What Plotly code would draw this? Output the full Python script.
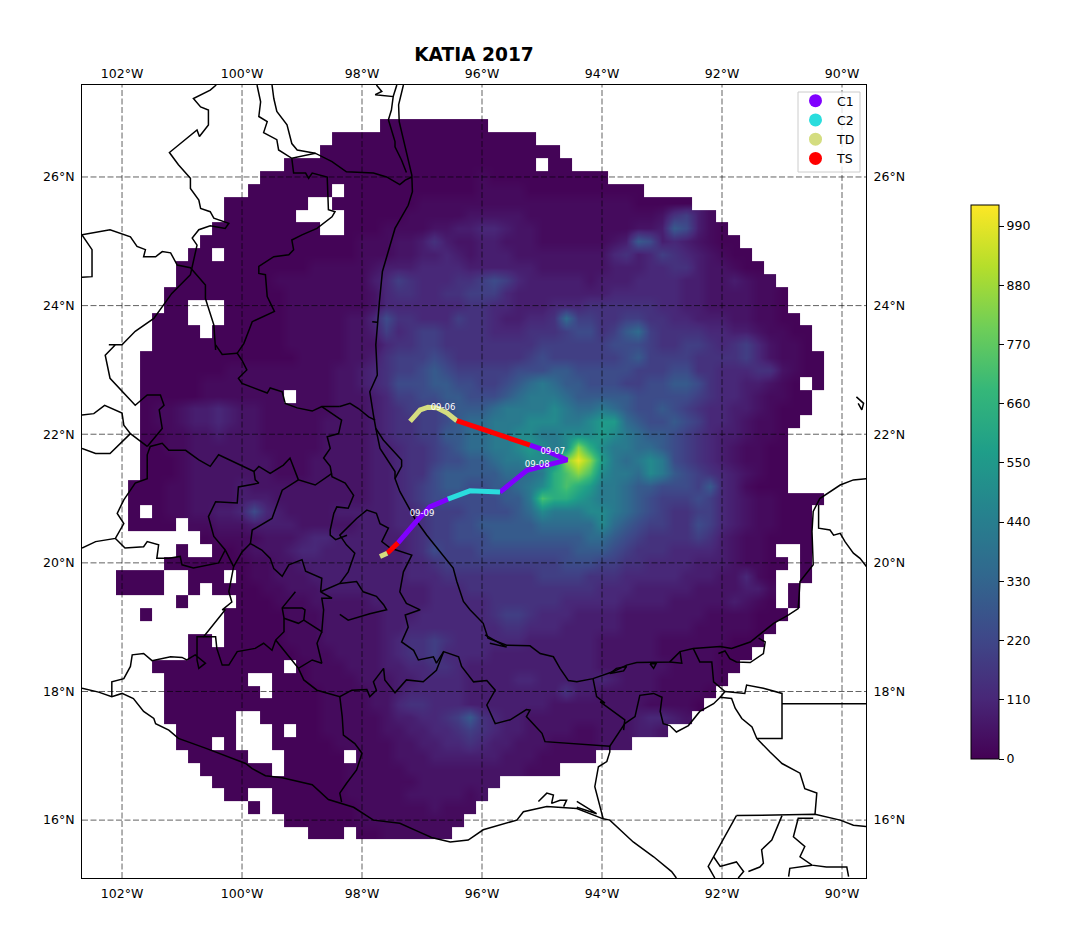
import plotly.graph_objects as go

# rain field, one row per 0.2 degree of latitude, north to south
LEVELS = {"0": 10, "1": 30, "2": 55, "3": 85, "4": 115, "5": 150, "6": 195, "7": 240, "8": 295,
          "9": 360, "a": 420, "b": 490, "c": 560, "d": 640, "e": 730, "f": 850, "g": 1000}
GRID_LON = [round(-102.0 + 0.2 * k, 1) for k in range(60)]
GRID_LAT = [round(26.8 - 0.2 * j, 1) for j in range(56)]
RAIN_ROWS = [
    ".......... .......... ..00000000 0",
    ".......... ........00 0000000000 00000",
    ".......... .......000 0000000000 0000000",
    ".......... ....000000 0000000000 00000.00",
    ".......... ..00000000 0000000000 1000000000 0",
    ".......... .0000000.0 0000000000 1111000000 0000",
    ".........0 000000..00 0000011111 1111111111 11100000",
    ".........0 00000....0 0000111112 2222111111 1111125631",
    "........00 0000000..0 0011112233 4432211111 1112238731 0",
    ".......000 0000000000 1112235322 3322211111 1238734321 00",
    "......00.0 0000000000 1112233432 3332222222 2453465432 100",
    ".....00000 0000001111 1233344443 3333322222 2333445532 2100",
    ".....00000 0001111111 1346544455 6764333332 3334444332 23211",
    "....000000 0000111111 1245544556 6643333333 3444444332 222110",
    "....00...0 0000111111 1244444445 5443334445 5555544332 222110",
    "...000...0 0000111112 2475544465 5433445966 5566554433 3221100",
    "...0000.00 0000111112 2364566555 5444555677 5689655554 43321100",
    "...0000000 0000111112 2245566555 5555566666 6777655665 45642110",
    "..00000000 0000011112 2356667655 5555676666 6678666655 556421100",
    "..00000001 1111111122 3456678766 6667778877 7776667755 444552100",
    "..00000111 1111111122 3457778877 66789a9887 7766778875 4433210.0",
    "..00000111 1111.11122 2346677887 7789aaa988 8887777765 44321100",
    "..01123343 2211111122 2345666788 89aaaaba99 a987787654 43321000",
    "..01123343 2211111222 2345566789 9aaabbbaab cc98778764 4321100",
    "..00112232 2211111222 2345566889 9aabbaabbb cba9887654 332110",
    "..00112222 2211111222 2334556789 9aabcbabfd baa9987654 321100",
    "..00012222 2221112222 2334556778 89aabbbfgf ca9aba7654 321100",
    "..00012222 2221112222 2334557888 88999adefe baa9ba8765 432100",
    ".000112222 3222222222 2334567887 7889abdedc aa98877768 431000",
    ".000112222 3332222222 2334567777 7788aeddcb aa98766676 432110000",
    ".0.0112233 4743222233 3334456667 77789baaab ba98765566 43211000",
    ".0000.1122 2333322222 3334456677 8888899999 b987665576 43211000",
    ".......011 1122234433 3333456677 7888888889 9876555565 32110000",
    ".....0..00 1222344333 3333457666 7777777788 8765554444 32110..0",
    "....000000 0112233333 3333445666 6666666777 6655444433 321100.0",
    "0000..000. 0112223333 3333444555 5555566665 5544444333 22410..0",
    "0000..0.00 0011222333 3333334445 5555555555 4443333322 22331.0",
    ".....0.... 0001112222 2333334444 4555555444 4433332222 23210.0",
    "..0......0 0000111222 2233344444 4566544433 3322222221 111000",
    ".........0 0000111222 2233444444 4455444333 3322222211 11100",
    "......00.0 0000111222 2234556544 4444333333 2222211111 1000",
    "......0000 0000011122 2234556444 4333333333 2222211111 000",
    "...0000000 0000.01112 2233445543 3333333333 2222221111 00",
    "....000000 0..0001111 2223344443 3334433333 4322211111 0",
    "....000000 00.0000111 1223444443 3333333533 2222211110",
    "....000000 0000000111 1224554443 3333332222 222211110",
    "....000000 ..00000111 1123344568 5433222222 22234432",
    ".....00000 ...0.00111 1122334456 5433222211 222332",
    ".....000.0 ...0000011 1112233445 4332221111 222",
    "......0000 0...00000. 1112223333 3322211111",
    ".......000 000.000001 1111222222 2222111",
    "........00 0000000001 1111122222 22",
    ".........0 0..0000001 1111222221 2",
    ".......... .0.0000000 1111112111",
    ".......... ....000000 111111111",
    ".......... ......000. 00111111",
]

# storm track
TRACK_LON = [-97.2, -97.03, -96.9, -96.75, -96.58, -96.42, -95.2, -94.92, -94.58, -94.95,
             -95.25, -95.45, -95.7, -96.2, -96.57, -96.87, -97.07, -97.4, -97.58, -97.7]
TRACK_LAT = [22.2, 22.38, 22.42, 22.41, 22.33, 22.21, 21.83, 21.74, 21.6, 21.52,
             21.44, 21.29, 21.1, 21.12, 20.99, 20.87, 20.67, 20.31, 20.15, 20.1]
TRACK_CAT = ["TD"] * 5 + ["TS"] + ["C1"] * 6 + ["C2"] * 2 + ["C1"] * 3 + ["TS"] + ["TD"]
CAT_COLORS = {"C1": "#8000ff", "C2": "#2adddd", "TD": "#d4dd80", "TS": "#ff0000"}
DATE_LABELS = ["09-06", "09-07", "09-08", "09-09"]
DATE_LON = [-96.65, -94.82, -95.08, -97.0]
DATE_LAT = [22.41, 21.72, 21.52, 20.76]

LON_TICKS = [-102, -100, -98, -96, -94, -92, -90]
LAT_TICKS = [16, 18, 20, 22, 24, 26]
COLORBAR_TICKS = [0, 110, 220, 330, 440, 550, 660, 770, 880, 990]

# coast and state lines, traced by eye as (lon, lat)
BOUNDARIES = [
    # gulf coast
    [(-97.31, 27.43), (-97.39, 27.12), (-97.38, 26.86), (-97.31, 26.58), (-97.23, 26.29), (-97.17, 26.03),
     (-97.16, 25.77), (-97.23, 25.56), (-97.45, 25.2), (-97.53, 24.94), (-97.66, 24.53), (-97.71, 24.06),
     (-97.74, 23.7), (-97.77, 23.39), (-97.745, 22.92), (-97.87, 22.66), (-97.81, 22.3), (-97.77, 22.09),
     (-97.645, 21.91), (-97.34, 21.6), (-97.34, 21.5), (-97.45, 21.31), (-97.37, 21.11), (-97.12, 20.69),
     (-96.92, 20.43), (-96.7, 20.17), (-96.48, 19.92), (-96.42, 19.71), (-96.31, 19.4), (-96.2, 19.27),
     (-95.98, 19.06), (-95.9, 18.83), (-95.59, 18.72), (-95.2, 18.71), (-95.03, 18.59), (-94.81, 18.54),
     (-94.7, 18.36), (-94.56, 18.17), (-94.42, 18.15), (-94.15, 18.2), (-93.95, 18.26), (-93.81, 18.31),
     (-93.59, 18.41), (-93.42, 18.45), (-92.87, 18.46), (-92.7, 18.62), (-92.48, 18.67), (-92.03, 18.7),
     (-91.84, 18.67), (-91.53, 18.77), (-91.26, 18.97), (-91.14, 19.06), (-90.89, 19.19), (-90.73, 19.29),
     (-90.7, 19.71), (-90.48, 19.97), (-90.5, 20.49), (-90.48, 20.8), (-90.37, 21.0), (-90.03, 21.21),
     (-89.81, 21.29), (-89.59, 21.31)],
    [(-97.77, 22.09), (-97.7, 21.78), (-97.45, 21.42), (-97.45, 21.31)],
    [(-95.95, 18.88), (-95.59, 18.69), (-95.87, 18.75)],
    [(-92.06, 18.59), (-91.95, 18.63), (-91.87, 18.51), (-91.76, 18.46), (-91.53, 18.45), (-91.31, 18.59),
     (-91.28, 18.77), (-91.39, 18.83)],
    [(-93.87, 18.28), (-93.76, 18.36), (-93.59, 18.39), (-93.64, 18.32), (-93.87, 18.28)],
    [(-93.2, 18.43), (-93.1, 18.43), (-93.14, 18.36), (-93.2, 18.43)],
    [(-89.76, 22.58), (-89.64, 22.48), (-89.67, 22.38), (-89.73, 22.48)],
    [(-90.39, 20.9), (-90.39, 20.54), (-90.2, 20.51), (-90.14, 20.43), (-90.03, 20.46), (-89.95, 20.33),
     (-89.81, 20.15), (-89.7, 20.07), (-89.59, 19.94)],
    # pacific coast
    [(-102.667, 18.05), (-102.39, 17.99), (-102.17, 17.92), (-102.0, 17.97), (-101.81, 17.89), (-101.64, 17.69),
     (-101.47, 17.58), (-101.44, 17.5), (-101.22, 17.4), (-101.06, 17.27), (-100.61, 17.12), (-99.94, 16.88),
     (-99.83, 16.8), (-99.61, 16.69), (-99.33, 16.66), (-98.83, 16.55), (-98.56, 16.32), (-98.37, 16.27),
     (-98.14, 16.2), (-97.81, 16.0), (-97.37, 15.95), (-97.06, 15.82), (-96.84, 15.73), (-96.53, 15.66),
     (-96.23, 15.69), (-95.98, 15.85), (-95.59, 15.95), (-95.42, 16.0), (-95.31, 16.13), (-94.92, 16.21),
     (-94.42, 16.18), (-93.98, 16.02), (-93.87, 16.0), (-93.48, 15.66), (-93.14, 15.43), (-92.84, 15.2),
     (-92.76, 15.1)],
    [(-95.06, 16.29), (-94.92, 16.42), (-94.81, 16.39), (-94.84, 16.26), (-94.7, 16.31), (-94.59, 16.31),
     (-94.64, 16.21)],
    [(-94.42, 16.29), (-94.09, 16.1), (-94.42, 16.2)],
    # western states
    [(-102.17, 17.92), (-102.17, 18.15), (-101.97, 18.2), (-101.86, 18.39), (-101.83, 18.57), (-101.64, 18.59),
     (-101.5, 18.48), (-101.19, 18.54), (-101.0, 18.53), (-100.92, 18.49), (-100.78, 18.57), (-100.61, 18.44),
     (-100.72, 18.36), (-100.75, 18.49), (-100.75, 18.85), (-100.64, 18.85), (-100.28, 19.27), (-100.33, 19.27),
     (-100.17, 19.39), (-100.22, 19.55), (-100.14, 19.94), (-100.28, 20.2), (-100.47, 20.41), (-100.56, 20.72),
     (-100.44, 20.95), (-100.08, 20.93), (-100.06, 21.18), (-99.72, 21.24), (-99.78, 21.29), (-99.8, 21.42),
     (-99.72, 21.5), (-99.53, 21.39), (-99.31, 21.52), (-99.2, 21.63), (-99.06, 21.29)],
    [(-100.64, 18.85), (-100.44, 18.85), (-100.42, 18.67), (-100.33, 18.41), (-100.22, 18.41), (-100.08, 18.62),
     (-99.78, 18.67), (-99.64, 18.75), (-99.5, 18.64), (-99.44, 18.8), (-99.3, 18.93), (-99.3, 19.14), (-99.33, 19.3),
     (-99.11, 19.55)],
    [(-99.3, 19.14), (-99.06, 19.06), (-98.97, 19.11), (-98.95, 19.27), (-99.0, 19.3), (-99.33, 19.3)],
    [(-98.97, 19.11), (-98.67, 18.93), (-98.64, 19.27), (-98.67, 19.45), (-98.5, 19.45), (-98.69, 19.55)],
    [(-98.67, 18.93), (-98.75, 18.75), (-98.67, 18.44), (-98.83, 18.49), (-99.06, 18.36), (-99.44, 18.8)],
    [(-99.06, 18.36), (-98.97, 18.18), (-98.75, 18.02), (-98.37, 17.92), (-98.17, 18.02), (-97.92, 18.03),
     (-97.87, 17.92), (-97.76, 18.02), (-97.81, 18.15), (-97.64, 18.36), (-97.62, 18.18), (-97.45, 17.98),
     (-97.26, 18.18), (-96.98, 18.15), (-96.76, 18.33), (-96.64, 18.62), (-96.39, 18.54), (-96.34, 18.39),
     (-96.14, 18.15), (-95.92, 18.17), (-95.78, 18.02), (-95.92, 17.79), (-95.78, 17.5), (-95.53, 17.56),
     (-95.26, 17.72), (-95.2, 17.71), (-95.26, 17.61), (-95.0, 17.35), (-94.95, 17.22), (-93.95, 17.15),
     (-93.87, 17.15), (-93.62, 17.5), (-93.45, 17.61), (-93.37, 17.94), (-93.14, 17.97), (-93.0, 17.91),
     (-93.03, 17.69), (-92.98, 17.5), (-92.87, 17.47), (-92.76, 17.37), (-92.56, 17.47), (-92.37, 17.69),
     (-92.14, 17.81), (-92.03, 17.91), (-91.84, 17.89), (-91.78, 17.74), (-91.67, 17.58), (-91.5, 17.45),
     (-91.42, 17.27), (-91.2, 17.06), (-91.0, 16.88), (-90.7, 16.73), (-90.62, 16.49), (-90.42, 16.42),
     (-90.45, 16.09)],
    [(-98.37, 17.92), (-98.33, 17.61), (-98.31, 17.32), (-98.12, 17.19), (-98.0, 17.04), (-98.09, 16.78),
     (-98.26, 16.57), (-98.37, 16.42), (-98.34, 16.28)],
    [(-96.64, 18.62), (-96.76, 18.44), (-96.81, 18.54), (-97.06, 18.49), (-97.14, 18.64), (-97.34, 18.77),
     (-97.23, 19.0), (-97.28, 19.19), (-97.03, 19.27), (-97.26, 19.37), (-97.37, 19.55), (-97.31, 19.86),
     (-97.17, 20.12), (-97.53, 20.23), (-97.67, 20.33), (-97.56, 20.54), (-97.7, 20.61), (-97.76, 20.77),
     (-97.92, 20.82), (-98.09, 20.69), (-98.37, 20.43), (-98.26, 20.28), (-98.12, 20.15), (-98.23, 19.86),
     (-98.37, 19.68), (-98.69, 19.55)],
    [(-98.37, 19.68), (-98.09, 19.71), (-97.98, 19.55), (-97.76, 19.48), (-97.64, 19.35), (-97.59, 19.27),
     (-97.87, 19.21), (-98.23, 19.11), (-98.37, 19.2)],
    [(-98.37, 22.43), (-98.2, 22.48), (-98.06, 22.4), (-97.89, 22.27), (-97.78, 22.22)],
    [(-98.37, 22.43), (-98.67, 22.43), (-98.83, 22.36), (-99.08, 22.41), (-99.28, 22.48), (-99.33, 22.66),
     (-99.53, 22.72), (-99.58, 22.64), (-100.0, 22.79), (-100.06, 22.87), (-99.92, 23.0), (-100.0, 23.15),
     (-100.08, 23.26), (-99.97, 23.41), (-99.83, 23.75), (-99.46, 23.91), (-99.58, 24.14), (-99.61, 24.48),
     (-99.72, 24.5), (-99.72, 24.61), (-99.47, 24.76), (-99.22, 24.79), (-99.14, 24.87), (-99.17, 25.02),
     (-99.0, 25.1), (-98.75, 25.2), (-98.5, 25.38), (-98.45, 25.46), (-98.56, 25.49), (-98.58, 26.0),
     (-98.83, 26.06), (-98.89, 25.98), (-98.94, 26.06), (-99.14, 26.06), (-99.17, 26.29)],
    [(-100.08, 23.26), (-100.33, 23.24), (-100.44, 23.39)],
    [(-98.67, 22.43), (-98.34, 22.22), (-98.39, 22.01), (-98.58, 21.96), (-98.53, 21.78), (-98.64, 21.63),
     (-98.53, 21.5), (-98.5, 21.34), (-98.28, 21.24), (-98.14, 21.05), (-98.23, 20.85), (-98.42, 20.87),
     (-98.47, 20.77), (-98.53, 20.51), (-98.53, 20.43), (-98.44, 20.36), (-98.25, 20.43)],
    [(-98.5, 21.39), (-98.78, 21.21), (-99.06, 21.29), (-99.33, 21.13), (-99.5, 20.69), (-99.83, 20.51),
     (-99.86, 20.3), (-99.67, 20.2), (-99.53, 20.07), (-99.47, 19.91), (-99.33, 19.79), (-99.22, 19.97),
     (-99.0, 20.05), (-98.94, 19.87), (-98.67, 19.76), (-98.69, 19.55)],
    [(-100.14, 19.94), (-100.0, 20.17), (-99.86, 20.3)],
    [(-99.8, 21.42), (-100.39, 21.68), (-100.53, 21.5), (-100.72, 21.6), (-100.94, 21.75), (-101.22, 21.75),
     (-101.33, 21.86), (-101.53, 21.81), (-101.58, 21.68), (-101.58, 21.31), (-101.78, 21.24), (-101.97, 20.98),
     (-102.08, 20.77), (-101.97, 20.61), (-102.11, 20.38), (-102.44, 20.33), (-102.667, 20.23)],
    [(-102.11, 20.38), (-101.95, 20.23), (-101.64, 20.25), (-101.58, 20.33), (-101.39, 20.28), (-101.42, 20.07),
     (-101.22, 20.07), (-101.03, 20.1), (-101.0, 19.97), (-100.81, 19.92), (-100.39, 20.0), (-100.28, 20.2)],
    [(-101.58, 21.81), (-101.33, 22.09), (-101.38, 22.38), (-101.3, 22.45), (-101.36, 22.61), (-101.58, 22.61),
     (-101.78, 22.45), (-101.94, 22.61), (-102.2, 22.87), (-102.28, 23.23), (-102.11, 23.39), (-102.22, 23.39),
     (-102.0, 23.39), (-101.78, 23.6), (-101.47, 23.8), (-101.17, 24.19), (-100.86, 24.48), (-100.75, 24.94),
     (-100.83, 25.05), (-100.72, 25.18), (-100.53, 25.24), (-100.28, 25.2), (-100.22, 25.28), (-100.47, 25.36),
     (-100.53, 25.46), (-100.69, 25.51), (-100.72, 25.64), (-100.86, 25.82), (-100.86, 25.98), (-101.06, 26.19),
     (-101.21, 26.38), (-100.75, 26.73), (-100.71, 26.63), (-100.56, 26.81), (-100.56, 27.04), (-100.69, 27.09),
     (-100.81, 27.22), (-100.53, 27.35), (-100.43, 27.43)],
    [(-101.58, 21.81), (-101.86, 22.01), (-101.97, 22.14), (-102.0, 22.33), (-102.29, 22.45), (-102.47, 22.32),
     (-102.667, 22.3)],
    [(-101.86, 22.01), (-102.2, 21.7), (-102.44, 21.7), (-102.667, 21.78)],
    [(-102.667, 25.1), (-102.2, 25.18), (-101.86, 25.07), (-101.75, 24.92), (-101.61, 24.87), (-101.64, 24.76),
     (-101.44, 24.76), (-101.33, 24.84), (-101.19, 24.82), (-101.08, 24.63), (-100.86, 24.59), (-100.61, 24.32),
     (-100.61, 24.11), (-100.47, 23.7), (-100.44, 23.31)],
    [(-102.667, 25.1), (-102.5, 24.87), (-102.5, 24.45), (-102.667, 24.44)],
    # rio grande and the lines north of it
    [(-99.75, 27.43), (-99.69, 27.17), (-99.72, 26.94), (-99.58, 26.86), (-99.64, 26.69), (-99.42, 26.58),
     (-99.39, 26.42), (-99.17, 26.29), (-98.78, 26.37), (-98.5, 26.24), (-98.26, 26.08), (-97.81, 26.06),
     (-97.59, 26.0), (-97.37, 25.88), (-97.28, 25.95), (-97.17, 26.0)],
    [(-99.5, 27.43), (-99.47, 27.22), (-99.42, 27.02), (-99.25, 26.81), (-99.17, 26.52), (-99.08, 26.42),
     (-98.78, 26.37)],
    [(-97.76, 27.43), (-97.67, 27.33), (-97.78, 27.28), (-97.48, 27.25), (-97.51, 27.04), (-97.56, 26.89),
     (-97.45, 26.55), (-97.45, 26.47), (-97.34, 26.26), (-97.26, 26.07)],
    [(-97.42, 27.43), (-97.48, 27.25)],
    [(-97.83, 23.75), (-97.75, 23.74)],
    # chiapas, guatemala and belize
    [(-94.03, 17.84), (-93.84, 17.71), (-93.62, 17.56), (-93.64, 17.4)],
    [(-94.15, 18.2), (-94.09, 17.92), (-93.95, 17.82), (-94.03, 17.84)],
    [(-93.87, 17.15), (-93.87, 17.06), (-93.92, 16.91), (-94.06, 16.83), (-94.12, 16.52), (-94.03, 16.21),
     (-93.98, 16.02)],
    [(-92.87, 18.46), (-92.67, 18.44), (-92.7, 18.62)],
    [(-92.48, 18.67), (-92.37, 18.46), (-92.17, 18.46), (-92.14, 18.15), (-91.95, 18.0), (-92.03, 17.91)],
    [(-91.95, 18.0), (-91.62, 17.97), (-91.59, 18.1), (-91.31, 18.05), (-91.0, 17.97), (-91.0, 17.27),
     (-91.42, 17.27)],
    [(-91.0, 17.81), (-89.59, 17.81)],
    [(-91.76, 16.07), (-90.45, 16.09), (-90.03, 16.0), (-89.81, 15.92), (-89.59, 15.9)],
    [(-91.76, 16.07), (-92.23, 15.28), (-92.12, 15.1)],
    [(-92.14, 15.43), (-92.03, 15.28), (-91.76, 15.35), (-91.64, 15.2), (-91.73, 15.1)],
    [(-91.0, 16.07), (-91.17, 15.69), (-91.34, 15.54), (-91.31, 15.33), (-91.37, 15.27), (-91.56, 15.2)],
    [(-90.48, 16.03), (-90.73, 16.03), (-90.81, 15.74), (-90.62, 15.59), (-90.7, 15.43), (-90.5, 15.3),
     (-90.26, 15.27), (-89.92, 15.27), (-89.89, 15.12)],
    [(-90.5, 15.3), (-90.87, 15.25), (-90.89, 15.12)],
]

FONT = "DejaVu Sans"
X_RANGE = [-102.667, -89.6]
Y_RANGE = [15.1, 27.43]


def hemi_lon(v):
    return f"{abs(v)}°W"


def hemi_lat(v):
    return f"{v}°N"


rain = []
for row in reversed(RAIN_ROWS):
    cells = row.replace(" ", "").ljust(60, ".")
    assert len(cells) == 60, row
    rain.append([LEVELS.get(c) for c in cells])

fig = go.Figure()

fig.add_trace(go.Heatmap(
    x=GRID_LON, y=GRID_LAT[::-1], z=rain, zmin=0, zmax=1029, zsmooth="best",
    colorscale="Viridis", hoverinfo="skip",
    colorbar=dict(
        thicknessmode="pixels", thickness=28, lenmode="pixels", len=554,
        xref="paper", yref="paper", x=889 / 784, xanchor="left", xpad=0,
        y=673 / 793, yanchor="top", ypad=0,
        outlinecolor="black", outlinewidth=1,
        tickmode="array", tickvals=COLORBAR_TICKS, ticks="outside", ticklen=5,
        tickcolor="black", tickfont=dict(family=FONT, size=12.5, color="black"),
    )))

# map lines
map_x, map_y = [], []
for line in BOUNDARIES:
    map_x += [p[0] for p in line] + [None]
    map_y += [p[1] for p in line] + [None]
fig.add_trace(go.Scatter(x=map_x, y=map_y, mode="lines", line=dict(color="black", width=1.5),
                         showlegend=False, hoverinfo="skip"))

# gridlines go above the rain and the map
grid_x, grid_y = [], []
for v in LON_TICKS:
    grid_x += [v, v, None]
    grid_y += [Y_RANGE[0], Y_RANGE[1], None]
for v in LAT_TICKS:
    grid_x += [X_RANGE[0], X_RANGE[1], None]
    grid_y += [v, v, None]
fig.add_trace(go.Scatter(x=grid_x, y=grid_y, mode="lines",
                         line=dict(color="rgba(0,0,0,0.62)", width=1, dash="6px,2.5px"),
                         showlegend=False, hoverinfo="skip"))

# track, one trace per run of the same category
start = 0
for i in range(1, len(TRACK_CAT) + 1):
    if i == len(TRACK_CAT) or TRACK_CAT[i] != TRACK_CAT[start]:
        fig.add_trace(go.Scatter(x=TRACK_LON[start:i + 1], y=TRACK_LAT[start:i + 1], mode="lines",
                                 line=dict(color=CAT_COLORS[TRACK_CAT[start]], width=5),
                                 showlegend=False, hoverinfo="skip"))
        start = i

fig.add_trace(go.Scatter(x=DATE_LON, y=DATE_LAT, mode="text", text=DATE_LABELS,
                         textposition="middle center", textfont=dict(family=FONT, size=8.5, color="white"),
                         showlegend=False, hoverinfo="skip"))

# legend entries
for name, color in CAT_COLORS.items():
    fig.add_trace(go.Scatter(x=[None], y=[None], mode="markers", name=name,
                             marker=dict(color=color, size=13)))

# second pair of axes only carries the top and right labels
fig.add_trace(go.Scatter(x=[-96], y=[20], mode="markers", marker=dict(opacity=0), xaxis="x2", yaxis="y2",
                         showlegend=False, hoverinfo="skip"))

tick_font = dict(family=FONT, size=12.5, color="black")
lon_text = [hemi_lon(v) for v in LON_TICKS]
lat_text = [hemi_lat(v) for v in LAT_TICKS]
fig.update_layout(
    width=1076, height=941,
    margin=dict(l=82, r=210, t=85, b=63, autoexpand=False),
    paper_bgcolor="white", plot_bgcolor="white",
    title=dict(text="<b>KATIA 2017</b>", x=474 / 1076, xanchor="center", y=1 - 54 / 941, yanchor="middle",
               font=dict(family=FONT, size=18.6, color="black")),
    xaxis=dict(range=X_RANGE, tickvals=LON_TICKS, ticktext=lon_text, showgrid=False, zeroline=False,
               showline=True, linecolor="black", linewidth=1, mirror=True, ticks="outside", ticklen=4,
               tickcolor="white", tickfont=tick_font),
    yaxis=dict(range=Y_RANGE, tickvals=LAT_TICKS, ticktext=lat_text, showgrid=False, zeroline=False,
               showline=True, linecolor="black", linewidth=1, mirror=True, ticks="outside", ticklen=4,
               tickcolor="white", tickfont=tick_font),
    xaxis2=dict(range=X_RANGE, tickvals=LON_TICKS, ticktext=lon_text, showgrid=False, zeroline=False,
                overlaying="x", side="top", anchor="y2", ticks="outside", ticklen=1, tickcolor="white",
                tickfont=tick_font),
    yaxis2=dict(range=Y_RANGE, tickvals=LAT_TICKS, ticktext=lat_text, showgrid=False, zeroline=False,
                overlaying="y", side="right", anchor="x2", ticks="outside", ticklen=4, tickcolor="white",
                tickfont=tick_font),
    # the legend frame is its own shape: plotly's box pads the entries too much
    legend=dict(x=712 / 784, xanchor="left", y=792 / 793, yanchor="top", bgcolor="rgba(0,0,0,0)",
                borderwidth=0, font=dict(family=FONT, size=12.5, color="black"), itemwidth=33),
    shapes=[dict(type="rect", xref="paper", yref="paper", x0=716 / 784, x1=778 / 784, y0=706 / 793, y1=786 / 793,
                 fillcolor="rgba(255,255,255,0.8)", line=dict(color="#cccccc", width=1), layer="above")],
)

fig.write_html("out.html", config={"displayModeBar": False}, post_script="document.body.style.margin='0';")
